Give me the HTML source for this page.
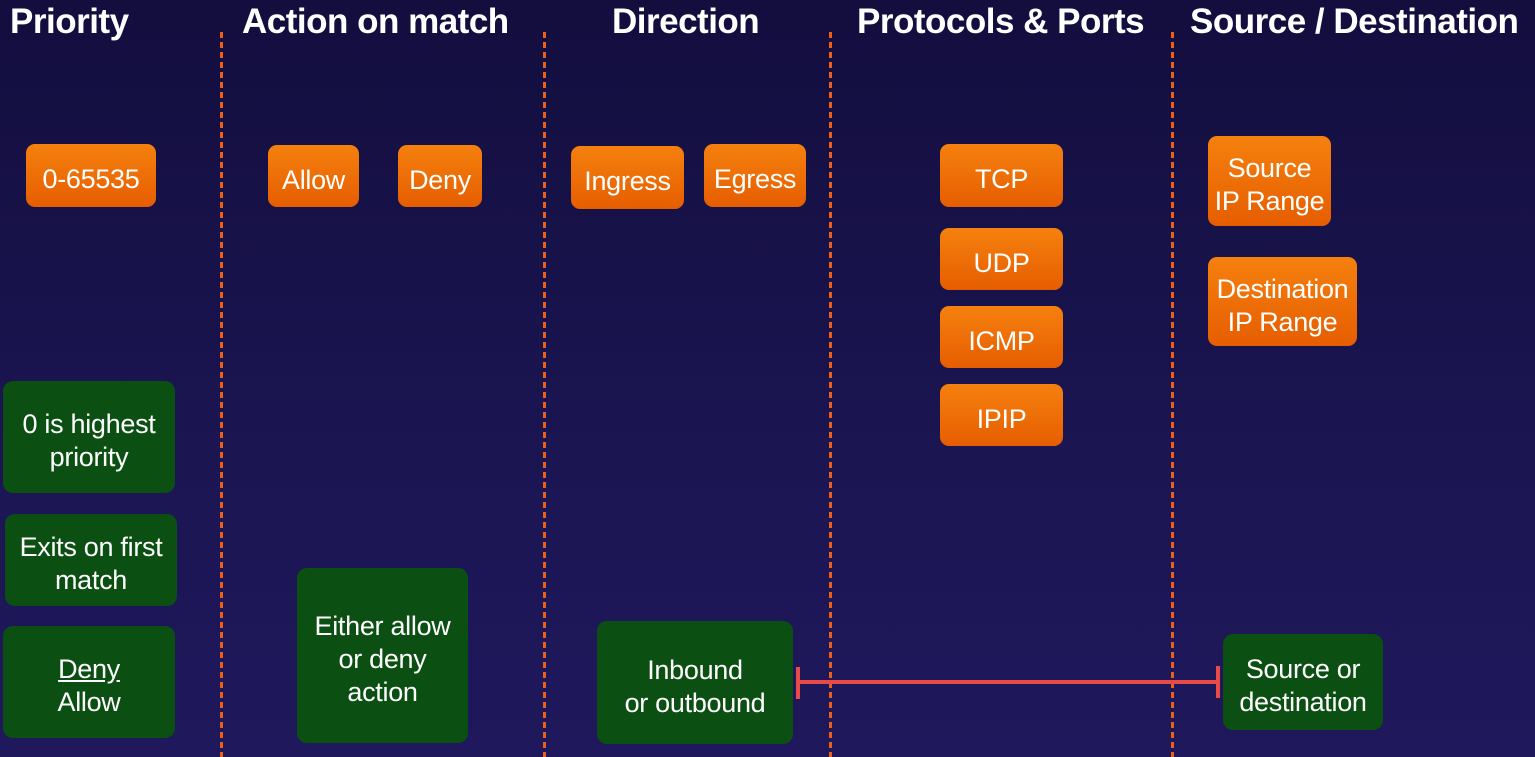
<!DOCTYPE html>
<html><head><style>
body{margin:0;width:1535px;height:757px;overflow:hidden;background:linear-gradient(180deg,#130e3e 0%,#1b1552 60%,#1f185c 100%);font-family:"Liberation Sans",sans-serif;position:relative}
.t{position:absolute;top:2px;color:#fff;font-weight:bold;font-size:35px;letter-spacing:-0.5px;white-space:nowrap}
.d{position:absolute;top:32px;height:725px;width:3px;background:repeating-linear-gradient(180deg,#e8601a 0 6px,transparent 6px 10px)}
.b{position:absolute;display:flex;align-items:center;justify-content:center;text-align:center;color:#fff;font-size:27px;line-height:33px;border-radius:9px;box-sizing:border-box;padding-top:8px;letter-spacing:-0.3px}
.o{background:linear-gradient(180deg,#f5810e,#e65d00)}
.g{background:#0b4f12;border-radius:10px}
</style></head><body>
<div class="t" style="left:10px">Priority</div>
<div class="t" style="left:242px">Action on match</div>
<div class="t" style="left:612px">Direction</div>
<div class="t" style="left:857px">Protocols &amp; Ports</div>
<div class="t" style="left:1190px">Source / Destination</div>
<div class="d" style="left:220px"></div>
<div class="d" style="left:543px"></div>
<div class="d" style="left:829px"></div>
<div class="d" style="left:1171px"></div>

<div class="b o" style="left:26px;top:144px;width:130px;height:63px">0-65535</div>
<div class="b o" style="left:268px;top:145px;width:91px;height:62px">Allow</div>
<div class="b o" style="left:398px;top:145px;width:84px;height:62px">Deny</div>
<div class="b o" style="left:571px;top:146px;width:113px;height:63px">Ingress</div>
<div class="b o" style="left:704px;top:144px;width:102px;height:63px">Egress</div>
<div class="b o" style="left:940px;top:144px;width:123px;height:63px">TCP</div>
<div class="b o" style="left:940px;top:228px;width:123px;height:62px">UDP</div>
<div class="b o" style="left:940px;top:306px;width:123px;height:62px">ICMP</div>
<div class="b o" style="left:940px;top:384px;width:123px;height:62px">IPIP</div>
<div class="b o" style="left:1208px;top:136px;width:123px;height:90px">Source<br>IP Range</div>
<div class="b o" style="left:1208px;top:257px;width:149px;height:89px">Destination<br>IP Range</div>

<div class="b g" style="left:3px;top:381px;width:172px;height:112px">0 is highest<br>priority</div>
<div class="b g" style="left:5px;top:514px;width:172px;height:92px">Exits on first<br>match</div>
<div class="b g" style="left:3px;top:626px;width:172px;height:112px"><span><u>Deny</u><br>Allow</span></div>
<div class="b g" style="left:297px;top:568px;width:171px;height:175px">Either allow<br>or deny<br>action</div>
<div class="b g" style="left:597px;top:621px;width:196px;height:123px">Inbound<br>or outbound</div>
<div class="b g" style="left:1223px;top:634px;width:160px;height:96px">Source or<br>destination</div>

<div style="position:absolute;left:797px;top:680px;width:422px;height:4px;background:#e84a4a"></div>
<div style="position:absolute;left:796px;top:667px;width:4px;height:32px;background:#e84a4a"></div>
<div style="position:absolute;left:1216px;top:666px;width:4px;height:32px;background:#e84a4a"></div>
</body></html>
